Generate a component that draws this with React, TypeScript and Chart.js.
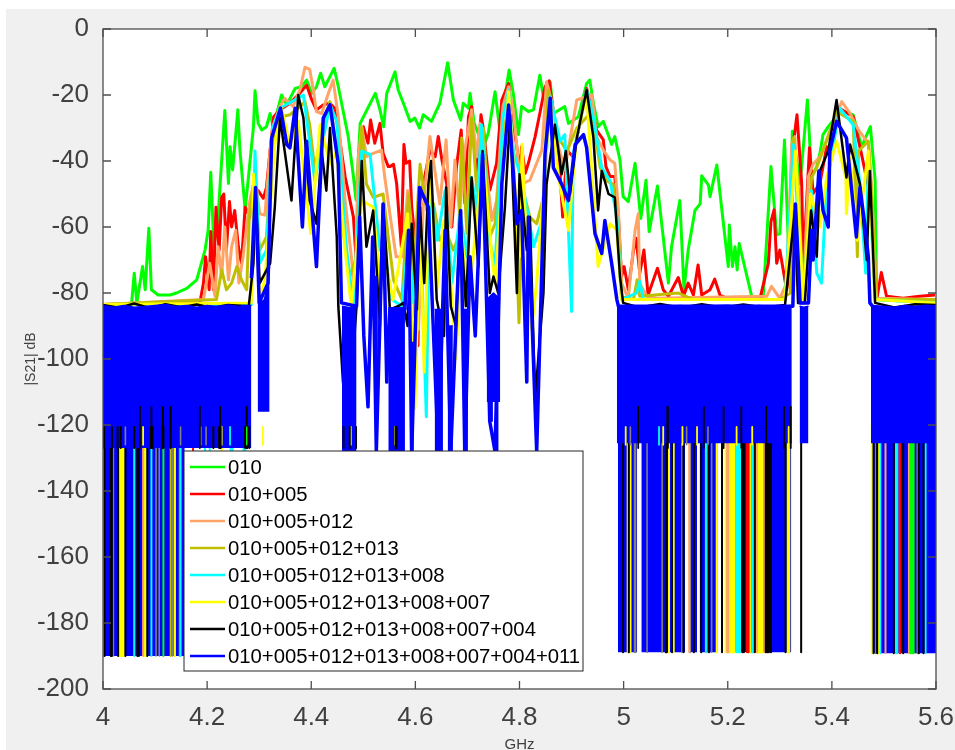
import React, { useEffect, useRef } from "react";
import { Chart, registerables } from "chart.js";

Chart.register(...registerables);

const seriesLabels = ["010", "010+005", "010+005+012", "010+005+012+013", "010+005+012+013+008", "010+005+012+013+008+007", "010+005+012+013+008+007+004", "010+005+012+013+008+007+004+011"];
const seriesColors = ["#00ff00", "#ff0000", "#ffa366", "#bfbf00", "#00ffff", "#ffff00", "#000000", "#0000ff"];
const xTicks = [4, 4.2, 4.4, 4.6, 4.8, 5, 5.2, 5.4, 5.6];
const yTicks = [0, -20, -40, -60, -80, -100, -120, -140, -160, -180, -200];

const greenCurve = [[4,-84],[4.05,-83.5],[4.055,-83],[4.06,-74],[4.065,-83],[4.076,-72],[4.081,-79],[4.088,-60.4],[4.093,-79],[4.106,-80.6],[4.129,-80.6],[4.141,-80],[4.161,-78.6],[4.18,-76],[4.196,-67],[4.202,-61],[4.207,-43.4],[4.213,-66],[4.221,-57],[4.234,-24.7],[4.241,-46.8],[4.244,-35.7],[4.249,-42.7],[4.259,-24.5],[4.263,-36.7],[4.273,-54.8],[4.282,-40.7],[4.289,-29.6],[4.292,-18.7],[4.298,-28.6],[4.305,-30.6],[4.314,-29.6],[4.321,-25.6],[4.327,-29.6],[4.343,-20],[4.353,-23],[4.369,-18],[4.381,-17.5],[4.391,-15.5],[4.401,-19.5],[4.41,-17.5],[4.418,-13.4],[4.426,-17.5],[4.444,-11.9],[4.452,-17.5],[4.471,-32.6],[4.481,-44.7],[4.486,-51.8],[4.494,-28.6],[4.507,-24.5],[4.523,-19.5],[4.532,-24.5],[4.539,-29.6],[4.545,-19.5],[4.561,-13],[4.567,-18.5],[4.577,-22.5],[4.59,-28],[4.599,-27],[4.608,-30],[4.615,-26],[4.631,-28],[4.647,-22.5],[4.662,-10.2],[4.673,-21.5],[4.687,-27.6],[4.692,-22.5],[4.702,-24],[4.705,-19.5],[4.713,-28.6],[4.731,-35.7],[4.74,-31.6],[4.753,-19],[4.763,-31.6],[4.772,-20.5],[4.78,-12.4],[4.788,-19.5],[4.798,-32],[4.804,-23.5],[4.817,-25],[4.827,-24.5],[4.839,-14],[4.847,-21.5],[4.859,-16],[4.865,-25.6],[4.887,-23.5],[4.894,-28.6],[4.913,-26.6],[4.929,-16.5],[4.935,-15.5],[4.942,-22.5],[4.951,-29.6],[4.961,-28],[4.967,-30.6],[4.977,-35],[4.983,-32.6],[4.993,-39.7],[4.999,-50.8],[5.009,-52.3],[5.022,-40.7],[5.033,-57.4],[5.043,-45.8],[5.049,-61.4],[5.065,-47.6],[5.086,-77],[5.092,-66],[5.108,-52],[5.116,-79],[5.124,-67],[5.137,-55],[5.147,-53],[5.15,-44.5],[5.163,-47.3],[5.166,-50.8],[5.179,-41.2],[5.201,-72],[5.203,-59.4],[5.209,-72],[5.214,-66],[5.218,-73],[5.222,-65],[5.246,-81],[5.268,-81.6],[5.283,-41.7],[5.294,-62.4],[5.3,-62],[5.309,-33.6],[5.319,-76],[5.324,-31],[5.339,-46.8],[5.353,-21.5],[5.361,-44.7],[5.371,-41.7],[5.377,-37.7],[5.383,-32],[5.393,-29.6],[5.403,-27.6],[5.415,-24.5],[5.441,-26],[5.457,-35.7],[5.474,-29.6],[5.483,-45.8],[5.486,-82],[5.6,-83]];

const redCurve = [[4,-83.5],[4.186,-83],[4.193,-77],[4.197,-69],[4.204,-79],[4.207,-61.4],[4.212,-79],[4.217,-54],[4.223,-67],[4.228,-51],[4.232,-50],[4.237,-67],[4.243,-52.3],[4.247,-60],[4.253,-55],[4.26,-66],[4.266,-71],[4.273,-54],[4.282,-57],[4.289,-48],[4.298,-49],[4.308,-51.3],[4.314,-48],[4.321,-36.7],[4.328,-26.6],[4.34,-24.5],[4.359,-22.5],[4.378,-19.5],[4.391,-17],[4.401,-21.5],[4.41,-24.5],[4.423,-23],[4.436,-22.5],[4.445,-24],[4.452,-30.6],[4.465,-44.7],[4.481,-57],[4.487,-72],[4.497,-32.6],[4.5,-29.6],[4.509,-34.6],[4.514,-27.6],[4.522,-34.6],[4.532,-28.6],[4.538,-37.7],[4.548,-41.7],[4.551,-41.7],[4.558,-41],[4.564,-46.8],[4.573,-66],[4.578,-35],[4.582,-40.7],[4.589,-40],[4.593,-54],[4.603,-69],[4.605,-96],[4.609,-52],[4.628,-36.7],[4.638,-38.7],[4.644,-32.6],[4.651,-39.7],[4.66,-46.8],[4.67,-60],[4.679,-41.7],[4.688,-30.6],[4.695,-52.8],[4.702,-26.6],[4.708,-23.5],[4.718,-46.8],[4.726,-26],[4.731,-30.6],[4.743,-48.8],[4.756,-40.7],[4.766,-21.5],[4.779,-16.5],[4.785,-24.5],[4.795,-36],[4.801,-43.7],[4.804,-35.7],[4.811,-43.7],[4.817,-40.7],[4.83,-32.6],[4.839,-25.6],[4.849,-17.5],[4.857,-15.7],[4.865,-25.6],[4.875,-36.7],[4.883,-57],[4.891,-36.7],[4.903,-38.7],[4.929,-18],[4.948,-30.6],[4.961,-33.6],[4.966,-41.7],[4.974,-44.7],[4.983,-44.7],[4.99,-57],[4.996,-75],[5.001,-72],[5.009,-79],[5.019,-67],[5.024,-63.4],[5.031,-74],[5.039,-67],[5.047,-80.6],[5.065,-72.5],[5.076,-79],[5.086,-81],[5.105,-75.3],[5.115,-81],[5.124,-77],[5.134,-80.6],[5.143,-71.5],[5.15,-80.6],[5.166,-79],[5.175,-75.8],[5.185,-80.6],[5.198,-81.6],[5.262,-81.6],[5.278,-71],[5.283,-58.4],[5.289,-54.8],[5.294,-71],[5.3,-67],[5.313,-79],[5.321,-72],[5.326,-34.6],[5.333,-26],[5.342,-46.8],[5.345,-72],[5.357,-36],[5.364,-49.8],[5.377,-46.8],[5.39,-35.7],[5.403,-36.7],[5.409,-23.5],[5.441,-26.6],[5.457,-38],[5.476,-52.3],[5.486,-82],[5.495,-73.8],[5.505,-81],[5.537,-81.6],[5.569,-81],[5.598,-80.6]];

const orangeCurve = [[4,-83.5],[4.193,-82],[4.205,-71],[4.215,-81],[4.221,-66],[4.228,-75],[4.234,-60],[4.241,-76],[4.247,-66],[4.255,-61],[4.261,-77],[4.269,-69],[4.282,-52],[4.292,-45],[4.301,-56],[4.311,-56.4],[4.321,-36.7],[4.326,-29.6],[4.34,-23.5],[4.349,-21],[4.365,-23.5],[4.378,-18.5],[4.388,-11.6],[4.397,-12.2],[4.404,-18.5],[4.41,-25],[4.42,-25.6],[4.433,-19.5],[4.442,-15.5],[4.452,-26.6],[4.465,-52],[4.477,-69],[4.484,-81],[4.49,-39.7],[4.497,-29.6],[4.506,-38.7],[4.519,-37.7],[4.535,-36.7],[4.541,-44.7],[4.551,-56],[4.563,-69],[4.576,-69],[4.585,-49],[4.591,-57],[4.599,-87],[4.606,-91],[4.615,-54],[4.628,-32.6],[4.641,-46.8],[4.647,-53],[4.659,-33.6],[4.668,-60],[4.676,-39.7],[4.685,-56],[4.695,-36.7],[4.708,-24.5],[4.718,-38.7],[4.724,-28.6],[4.734,-39.7],[4.747,-58],[4.756,-52],[4.768,-23.5],[4.779,-17.5],[4.788,-24.5],[4.798,-40.7],[4.807,-46.8],[4.82,-45.8],[4.833,-40.7],[4.843,-36.7],[4.852,-16],[4.865,-24],[4.875,-35.7],[4.887,-42.7],[4.91,-21.5],[4.939,-20],[4.948,-32.6],[4.961,-36.7],[4.974,-39.7],[4.983,-40.7],[4.99,-55],[4.996,-77],[5.009,-81.6],[5.022,-61],[5.028,-56],[5.031,-77],[5.044,-81],[5.063,-81.6],[5.275,-81],[5.284,-78],[5.3,-81.6],[5.313,-77],[5.323,-34.6],[5.329,-32.6],[5.335,-57],[5.345,-81],[5.355,-44.7],[5.364,-41],[5.377,-38.7],[5.396,-31.6],[5.419,-22],[5.435,-25.6],[5.451,-30.6],[5.47,-34.6],[5.476,-46.8],[5.486,-81.6],[5.6,-82]];

const oliveCurve = [[4,-83.5],[4.218,-82],[4.228,-73],[4.237,-79],[4.247,-77],[4.257,-72],[4.266,-76],[4.276,-79],[4.281,-57],[4.289,-47],[4.301,-67],[4.314,-63],[4.324,-37],[4.333,-27],[4.359,-26],[4.375,-24],[4.388,-22],[4.397,-29],[4.407,-43],[4.42,-30],[4.436,-22],[4.449,-37],[4.461,-61],[4.474,-75],[4.487,-69],[4.497,-30],[4.506,-47],[4.519,-51],[4.538,-50],[4.551,-67],[4.558,-76],[4.574,-82],[4.587,-50],[4.596,-75],[4.609,-41],[4.622,-55],[4.635,-53],[4.647,-64],[4.66,-62],[4.673,-67],[4.683,-63],[4.689,-33],[4.699,-62],[4.708,-27],[4.718,-49],[4.731,-30],[4.743,-63],[4.753,-59],[4.766,-36],[4.779,-22],[4.788,-37],[4.799,-89],[4.807,-49],[4.82,-57],[4.833,-59],[4.846,-51],[4.855,-18.5],[4.871,-32],[4.891,-37],[4.91,-30],[4.939,-25],[4.955,-42],[4.967,-46],[4.98,-47],[4.99,-62],[4.996,-81],[5.019,-82],[5.026,-76],[5.031,-81],[5.105,-80],[5.134,-82],[5.3,-82],[5.32,-80],[5.326,-33],[5.335,-47],[5.345,-81],[5.361,-45],[5.371,-42],[5.387,-35],[5.409,-25],[5.441,-28],[5.449,-69],[5.451,-37],[5.47,-34],[5.476,-50],[5.486,-82],[5.6,-82]];

const cyanCurve = [[4,-83.5],[4.285,-83.5],[4.292,-37],[4.301,-71],[4.314,-67],[4.326,-30],[4.34,-24],[4.385,-20],[4.407,-46],[4.436,-23],[4.449,-28],[4.468,-67],[4.481,-84],[4.497,-37],[4.513,-38],[4.532,-67],[4.539,-66],[4.555,-82],[4.574,-84],[4.587,-63],[4.596,-83],[4.609,-57],[4.621,-117.5],[4.628,-47],[4.642,-64],[4.657,-49],[4.67,-77],[4.686,-56],[4.699,-69],[4.708,-45],[4.718,-55],[4.727,-29],[4.743,-64],[4.753,-72],[4.768,-27],[4.779,-18.5],[4.788,-37],[4.801,-44],[4.814,-54],[4.827,-66],[4.843,-58],[4.859,-20.5],[4.878,-34],[4.887,-32],[4.9,-85.6],[4.903,-38],[4.929,-18.5],[4.942,-27],[4.958,-42],[4.974,-46],[4.987,-57],[4.996,-82],[5.025,-80],[5.031,-76.5],[5.038,-82],[5.31,-82],[5.326,-35],[5.335,-57],[5.345,-81],[5.361,-49],[5.371,-74],[5.38,-77],[5.39,-47],[5.415,-24],[5.441,-29],[5.454,-47],[5.465,-74],[5.47,-40],[5.483,-82],[5.6,-83]];

const yellowCurve = [[4,-83.5],[4.285,-83],[4.289,-44],[4.301,-82],[4.311,-76],[4.33,-35],[4.343,-24],[4.359,-35],[4.375,-28],[4.399,-62],[4.417,-29],[4.436,-41],[4.449,-37],[4.465,-67],[4.477,-84],[4.497,-52],[4.519,-54],[4.532,-77],[4.539,-68],[4.557,-82],[4.585,-56],[4.599,-115],[4.609,-60],[4.617,-104],[4.628,-40],[4.641,-79],[4.655,-58],[4.668,-77],[4.678,-100],[4.689,-62],[4.702,-84],[4.718,-57],[4.731,-40],[4.747,-69],[4.753,-77],[4.779,-19],[4.791,-47],[4.8,-69],[4.805,-35],[4.814,-67],[4.823,-91],[4.833,-77],[4.859,-21.5],[4.875,-45],[4.894,-61],[4.91,-32],[4.929,-20],[4.951,-72],[4.974,-59],[4.987,-61],[4.996,-82],[5.031,-82],[5.31,-82],[5.33,-37],[5.345,-82],[5.359,-50],[5.377,-60],[5.39,-45],[5.409,-34],[5.419,-40],[5.427,-45],[5.428,-56],[5.435,-39],[5.449,-64],[5.47,-37],[5.483,-82],[5.6,-83]];

const blackCurve = [[4,-83.6],[4.03,-84.5],[4.06,-83.2],[4.09,-84.6],[4.12,-83.4],[4.15,-84.3],[4.18,-83.5],[4.21,-84.5],[4.24,-83.6],[4.28,-84],[4.289,-71],[4.293,-49],[4.301,-77],[4.321,-71],[4.33,-54],[4.34,-27],[4.349,-37],[4.362,-52],[4.375,-20],[4.385,-27],[4.397,-52],[4.41,-59],[4.42,-37],[4.429,-49],[4.436,-30],[4.449,-63],[4.452,-84],[4.461,-107],[4.471,-120],[4.487,-84],[4.497,-40],[4.506,-66],[4.519,-55],[4.532,-90],[4.538,-53],[4.548,-77],[4.551,-85],[4.567,-84],[4.577,-83],[4.585,-90],[4.593,-59],[4.603,-85],[4.609,-54],[4.617,-77],[4.625,-47],[4.63,-40],[4.641,-82],[4.655,-93],[4.659,-48],[4.668,-84],[4.678,-90],[4.686,-56],[4.697,-84],[4.708,-45],[4.721,-72],[4.729,-37],[4.743,-80],[4.75,-75],[4.759,-80],[4.772,-54],[4.782,-26],[4.795,-80],[4.8,-44],[4.814,-67],[4.82,-57],[4.83,-112],[4.846,-80],[4.852,-47],[4.868,-29],[4.881,-44],[4.889,-37],[4.897,-50],[4.91,-33],[4.929,-18.5],[4.942,-33],[4.951,-55],[4.958,-43],[4.971,-50],[4.983,-51],[4.993,-75],[4.999,-83],[5.03,-84.4],[5.07,-83.3],[5.11,-84.5],[5.15,-83.4],[5.19,-84.4],[5.23,-83.5],[5.27,-84.4],[5.31,-83.6],[5.329,-55],[5.335,-83],[5.348,-83],[5.36,-55],[5.371,-69],[5.377,-43],[5.393,-37],[5.409,-21.5],[5.428,-45],[5.435,-35],[5.454,-47],[5.467,-70],[5.473,-43],[5.483,-83],[5.52,-84.4],[5.56,-83.4],[5.6,-83.6]];

const blueCurve = [[4.285,-75.5],[4.293,-48],[4.3,-83],[4.317,-77],[4.324,-33],[4.341,-24],[4.353,-35],[4.359,-36],[4.369,-24],[4.383,-60],[4.391,-34],[4.41,-72],[4.423,-27],[4.436,-23],[4.452,-41],[4.458,-83],[4.487,-84],[4.493,-57],[4.501,-93],[4.509,-114.5],[4.518,-63],[4.525,-128],[4.538,-53],[4.545,-107],[4.551,-85],[4.58,-85],[4.587,-61],[4.593,-128],[4.608,-48],[4.625,-54],[4.644,-128],[4.657,-61],[4.668,-128],[4.687,-55],[4.695,-128],[4.705,-69],[4.715,-93],[4.729,-38],[4.743,-119],[4.753,-128],[4.766,-47],[4.779,-23],[4.795,-59],[4.804,-55],[4.814,-107],[4.817,-57],[4.833,-128],[4.849,-38],[4.859,-21],[4.865,-42],[4.881,-47],[4.894,-52],[4.907,-35],[4.923,-32],[4.929,-36],[4.945,-62],[4.958,-68],[4.964,-58],[4.977,-71],[4.987,-82],[4.99,-84],[5.325,-84],[5.33,-53],[5.339,-83],[5.355,-83],[5.361,-61],[5.364,-70],[5.375,-43],[5.383,-55],[5.393,-60],[5.396,-37],[5.409,-28],[5.428,-33],[5.447,-63],[5.454,-48],[5.463,-59],[5.47,-69],[5.473,-83],[5.478,-84]];

// solid blue noise floor: upper edge of each block and the level it reaches
const blueBlocks = [
  { bottom: -127, top: [[4,-83.8],[4.02,-84.3],[4.04,-83.8],[4.06,-84.3],[4.08,-84.1],[4.1,-83.8],[4.12,-83.5],[4.14,-84.1],[4.16,-83.8],[4.18,-84.3],[4.2,-83.8],[4.22,-84.1],[4.24,-83.6],[4.26,-84.1],[4.27,-83.8],[4.285,-83.8]] },
  { bottom: -116, top: [[4.297,-76],[4.303,-83],[4.31,-82],[4.315,-78],[4.32,-72]] },
  { bottom: -128, top: [[4.459,-84],[4.47,-84.3],[4.48,-84.5],[4.487,-84]] },
  { bottom: -128, top: [[4.522,-75],[4.528,-75]] },
  { bottom: -128, top: [[4.548,-84.5],[4.565,-84.5],[4.58,-84.5]] },
  { bottom: -128, top: [[4.589,-95],[4.597,-95]] },
  { bottom: -128, top: [[4.637,-85],[4.653,-85]] },
  { bottom: -128, top: [[4.662,-90],[4.672,-90]] },
  { bottom: -128, top: [[4.691,-85],[4.701,-85]] },
  { bottom: -113, top: [[4.737,-82],[4.75,-80],[4.763,-82]] },
  { bottom: -119, top: [[4.739,-85],[4.749,-85]] },
  { bottom: -128, top: [[4.753,-85],[4.76,-85]] },
  { bottom: -125.5, top: [[4.987,-83.8],[5.02,-84.3],[5.05,-83.8],[5.08,-84.1],[5.11,-83.8],[5.14,-84.3],[5.17,-83.9],[5.2,-83.7],[5.23,-84.2],[5.26,-83.8],[5.29,-84.1],[5.323,-83.8]] },
  { bottom: -125.5, top: [[5.338,-84],[5.346,-84.3],[5.355,-84]] },
  { bottom: -125.5, top: [[5.475,-83.8],[5.5,-84],[5.52,-84.3],[5.54,-83.8],[5.56,-84.1],[5.58,-83.7],[5.6,-83.9]] },
];

// blue background behind the striped part, where the stripes have no white between them
const stripeBackLeft = [[4,-125],[4.157,-125]];
const stripeBackMidA = [[4.989,-125],[5.026,-125]];
const stripeBackMidB = [[5.034,-125],[5.118,-125]];
const stripeBackMidC = [[5.126,-125],[5.141,-125]];
const stripeBackMidD = [[5.146,-125],[5.181,-125]];
const stripeBackMidE = [[5.197,-125],[5.322,-125]];
const stripeBackRight = [[5.477,-125],[5.6,-125]];

const stripeBlackLeft = [4.003,4.015,4.017,4.029,4.043,4.066,4.069,4.085];
const stripeBlackMid = [4.999,5.01,5.081,5.083,5.093,5.115,5.135,5.149,5.164,5.189,5.228,5.231,5.252,5.273,5.276,5.279,5.283,5.311,5.341];
const stripeBlackRight = [5.48,5.487,5.519,5.537,5.567,5.576];
const stripeYellowLeft = [4.033,4.035,4.038,4.04,4.08,4.083,4.138,4.228];
const stripeYellowMid = [5.008,5.013,5.087,5.096,5.179,5.196,5.204,5.207,5.21,5.213,5.243,5.255,5.258,5.26,5.263,5.267,5.315,5.318];
const stripeYellowRight = [5.477,5.49];
const stripeCyanLeft = [4.001,4.031,4.06,4.093,4.149,4.196,4.205,4.245,4.249,4.27,4.273];
const stripeCyanMid = [5.158,5.2,5.217,5.22,5.222,5.224,5.247,5.249];
const stripeCyanRight = [5.493,5.523,5.525,5.58];
const stripeGrayLeft = [4.02,4.102,4.108,4.134,4.147];
const stripeGrayMid = [5.021,5.023,5.045,5.074,5.112,5.128,5.16,5.169];
const stripeGrayRight = [5.484,5.564,5.566];
const stripeOrangeLeft = [4.077];
const stripeOrangeMid = [5.126,5.199,5.201,5.256,5.271];
const stripeOrangeRight = [5.503,5.53,5.548];
const stripeRedLeft = [4.173];
const stripeRedMid = [5.237,5.24];
const stripeRedRight = [5.531];
const stripeOliveLeft = [4.13];
const stripeGreenLeft = [4.116];
const stripeGreenRight = [5.551,5.554,5.557];

const tallBlack = [4.071,4.093,4.115,4.13,4.186,4.225,4.276,5.028,5.084,5.085,5.154,5.192,5.226,5.274,5.308,5.321];
const shortBlack = [4.002,4.017,4.028,4.034,4.06,4.092,4.095,4.114,4.116,4.212,4.223,4.226,4.273,4.277,4.281,4.462,4.474,4.486,4.562,4.564];
const shortGray = [4.043,4.149,4.188,4.198,5.013,5.121,5.162];
const shortYellow = [4.077,4.228,4.307,4.476,4.561,4.593,5.004,5.076,5.113,5.141,5.217,5.247,5.317];
const shortCyan = [4.244,5.068];
const shortGreen = [4.276];

const curve = (pts: number[][]) => pts.map(([x, y]) => ({ x, y }));
const bars = (xs: number[], top: number, bottom: number) =>
  xs.flatMap((x) => [{ x, y: top }, { x, y: bottom }, { x, y: null as any }]);

const line = (data: any[], color: string, width: number, extra: any = {}) => ({
  data,
  borderColor: color,
  backgroundColor: color,
  borderWidth: width,
  pointRadius: 0,
  tension: 0,
  borderJoinStyle: "round",
  spanGaps: false,
  fill: false,
  ...extra,
});

const [green, red, orange, olive, cyan, yellow, black, blue] = seriesColors;
const gray = "#808080";

function buildDatasets() {
  const painted: any[] = [];
  painted.push(line(curve(stripeBackLeft), blue, 1, { fill: { value: -190 } }));
  for (const back of [stripeBackMidA, stripeBackMidB, stripeBackMidC, stripeBackMidD, stripeBackMidE]) {
    painted.push(line(curve(back), blue, 1, { fill: { value: -188.9 } }));
  }
  painted.push(line(curve(stripeBackRight), blue, 1, { fill: { value: -189.2 } }));
  // coloured stripes reaching down to the bottom level
  const stripeLayers: [number[], number[], number[], string, number][] = [
    [stripeGrayLeft, stripeGrayMid, stripeGrayRight, gray, 1.6],
    [stripeCyanLeft, stripeCyanMid, stripeCyanRight, cyan, 2],
    [stripeYellowLeft, stripeYellowMid, stripeYellowRight, yellow, 2.2],
    [stripeOrangeLeft, stripeOrangeMid, stripeOrangeRight, orange, 2],
    [stripeRedLeft, stripeRedMid, stripeRedRight, red, 2],
    [stripeOliveLeft, [], [], olive, 2],
    [stripeGreenLeft, [], stripeGreenRight, green, 2],
    [stripeBlackLeft, stripeBlackMid, stripeBlackRight, black, 2],
  ];
  for (const [l, m, r, c, w] of stripeLayers) {
    painted.push(line(bars(l, -120, -190), c, w));
    painted.push(line(bars(m, -120, -188.9), c, w));
    painted.push(line(bars(r, -120, -189.2), c, w));
  }
  const curves = [greenCurve, redCurve, orangeCurve, oliveCurve, cyanCurve, yellowCurve, blackCurve];
  curves.forEach((pts, i) => painted.push(line(curve(pts), seriesColors[i], i === 6 ? 2.5 : 3, { label: seriesLabels[i] })));
  for (const b of blueBlocks) {
    painted.push(line(curve(b.top), blue, 1.5, { fill: { value: b.bottom } }));
  }
  painted.push(line(bars(shortGray, -120.6, -126), gray, 1.6));
  painted.push(line(bars(shortYellow, -120.6, -126), yellow, 1.8));
  painted.push(line(bars(shortCyan, -120.6, -126), cyan, 1.8));
  painted.push(line(bars(shortBlack, -120.6, -127), black, 2));
  painted.push(line(bars(tallBlack, -114.5, -127), black, 1.8));
  painted.push(line(bars(shortGreen, -120.6, -126), green, 1.4));
  painted.push(line(curve(blueCurve), blue, 3.5, { label: seriesLabels[7] }));
  // Chart.js paints the first dataset last
  return painted.reverse();
}

const frame = {
  id: "frame",
  beforeDraw(chart: any) {
    const { ctx, chartArea: a } = chart;
    ctx.save();
    ctx.fillStyle = "#f0f0f0";
    ctx.fillRect(6, 9, chart.width - 6, chart.height - 9);
    ctx.fillStyle = "#ffffff";
    ctx.fillRect(a.left, a.top, a.right - a.left, a.bottom - a.top);
    ctx.restore();
  },
  afterDatasetsDraw(chart: any) {
    const { ctx, chartArea: a, scales } = chart;
    ctx.save();
    ctx.strokeStyle = "#4d4d4d";
    ctx.lineWidth = 1.3;
    ctx.strokeRect(a.left, a.top, a.right - a.left, a.bottom - a.top);
    ctx.beginPath();
    for (const v of xTicks) {
      const p = scales.x.getPixelForValue(v);
      ctx.moveTo(p, a.bottom);
      ctx.lineTo(p, a.bottom - 8);
      ctx.moveTo(p, a.top);
      ctx.lineTo(p, a.top + 8);
    }
    for (const v of yTicks) {
      const p = scales.y.getPixelForValue(v);
      ctx.moveTo(a.left, p);
      ctx.lineTo(a.left + 8, p);
      ctx.moveTo(a.right, p);
      ctx.lineTo(a.right - 8, p);
    }
    ctx.stroke();
    // legend box
    const left = 184, top = 451, w = 399, h = 220;
    ctx.fillStyle = "#ffffff";
    ctx.fillRect(left, top, w, h);
    ctx.strokeStyle = "#262626";
    ctx.lineWidth = 1;
    ctx.strokeRect(left, top, w, h);
    ctx.font = '20.3px "Liberation Sans"';
    ctx.textBaseline = "middle";
    seriesLabels.forEach((label, i) => {
      const y = 467 + i * 27;
      ctx.strokeStyle = seriesColors[i];
      ctx.lineWidth = 2.5;
      ctx.beginPath();
      ctx.moveTo(190, y);
      ctx.lineTo(225, y);
      ctx.stroke();
      ctx.fillStyle = "#000000";
      ctx.fillText(label, 228, y + 1);
    });
    ctx.restore();
  },
};

export default function App() {
  const ref = useRef<HTMLCanvasElement>(null);
  useEffect(() => {
    const tickFont = { family: '"Liberation Sans"', size: 26 };
    const chart = new Chart(ref.current as HTMLCanvasElement, {
      type: "line",
      data: { datasets: buildDatasets() as any },
      options: {
        animation: false,
        responsive: false,
        parsing: { xAxisKey: "x", yAxisKey: "y" } as any,
        layout: { padding: { left: 0, right: 19, top: 29, bottom: 0 } },
        plugins: { legend: { display: false }, tooltip: { enabled: false } },
        scales: {
          x: {
            type: "linear",
            min: 4,
            max: 5.6,
            afterFit: (s: any) => { s.height = 61; s.paddingLeft = 0; s.paddingRight = 0; },
            afterBuildTicks: (s: any) => { s.ticks = xTicks.map((value) => ({ value })); },
            grid: { display: false },
            border: { display: false },
            ticks: { font: tickFont, color: "#404040", padding: 5, maxRotation: 0, autoSkip: false, callback: (v: any) => String(v) },
            title: { display: true, text: "GHz", color: "#404040", font: { family: '"Liberation Sans"', size: 15 }, padding: { top: 0, bottom: -4 } },
          },
          y: {
            min: -200,
            max: 0,
            afterFit: (s: any) => { s.width = 103; },
            afterBuildTicks: (s: any) => { s.ticks = yTicks.map((value) => ({ value })); },
            grid: { display: false },
            border: { display: false },
            ticks: { font: tickFont, color: "#404040", padding: 6, autoSkip: false, callback: (v: any) => String(v) },
            title: { display: true, text: "|S21| dB", color: "#404040", font: { family: '"Liberation Sans"', size: 14 }, padding: { top: 23, bottom: 0 } },
          },
        },
      },
      plugins: [frame],
    });
    return () => chart.destroy();
  }, []);
  return (
    <div style={{ position: "fixed", left: 0, top: 0, width: 955, height: 750, background: "#ffffff" }}>
      <canvas ref={ref} width={955} height={750} style={{ display: "block" }} />
    </div>
  );
}
